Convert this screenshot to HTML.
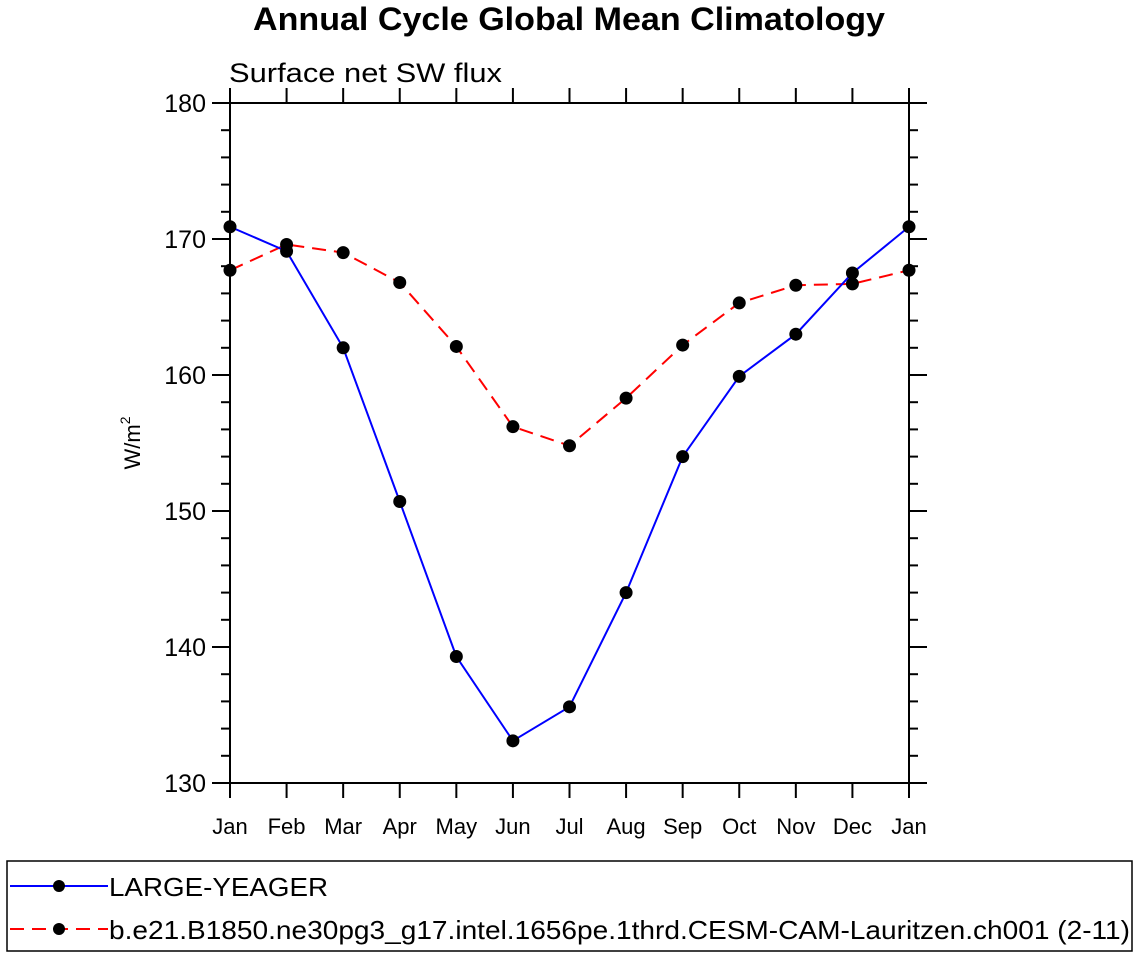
<!DOCTYPE html>
<html><head><meta charset="utf-8"><style>
body{margin:0;background:#fff;}
svg{display:block;font-family:"Liberation Sans",sans-serif;}
</style></head><body>
<svg id="chart" width="1138" height="958">
<text x="253" y="30" textLength="632" lengthAdjust="spacingAndGlyphs" font-size="32" font-weight="bold">Annual Cycle Global Mean Climatology</text>
<text x="229" y="82" textLength="273" lengthAdjust="spacingAndGlyphs" font-size="27">Surface net SW flux</text>
<text transform="translate(140,443) rotate(-90)" text-anchor="middle" font-size="22">W/m<tspan font-size="14" dy="-10">2</tspan></text>
<g id="axes"></g>
<g id="series"></g>
<rect x="7" y="861" width="1125" height="90" fill="none" stroke="#000" stroke-width="1.5"/>
<g>
<line x1="10" y1="886" x2="108" y2="886" stroke="#00f" stroke-width="2"/>
<circle cx="59" cy="886" r="6" fill="#000"/>
<text x="109" y="896" textLength="219" lengthAdjust="spacingAndGlyphs" font-size="26">LARGE-YEAGER</text></g>
<g>
<line x1="10" y1="929" x2="108" y2="929" stroke="#f00" stroke-width="2" stroke-dasharray="14,8"/>
<circle cx="59" cy="929" r="6" fill="#000"/>
<text x="109" y="939" textLength="1021" lengthAdjust="spacingAndGlyphs" font-size="26">b.e21.B1850.ne30pg3_g17.intel.1656pe.1thrd.CESM-CAM-Lauritzen.ch001 (2-11)</text></g>
</svg>
<script>
const months = ["Jan","Feb","Mar","Apr","May","Jun","Jul","Aug","Sep","Oct","Nov","Dec","Jan"];
const blueValues = [170.9,169.1,162.0,150.7,139.3,133.1,135.6,144.0,154.0,159.9,163.0,167.5,170.9];
const redValues = [167.7,169.6,169.0,166.8,162.1,156.2,154.8,158.3,162.2,165.3,166.6,166.7,167.7];
const yTicks = [130,140,150,160,170,180];
const yMin = 130, yMax = 180;
const L=230,R=909,T=103,B=783;
const NS="http://www.w3.org/2000/svg";
const xs=i=>L+(R-L)*i/(months.length-1);
const ys=v=>B-(B-T)*(v-yMin)/(yMax-yMin);
function mk(tag,attrs,parent){const e=document.createElementNS(NS,tag);for(const k in attrs)e.setAttribute(k,attrs[k]);parent.appendChild(e);return e;}
const ax=document.getElementById('axes');
const frame=mk('rect',{x:L,y:T,width:R-L,height:B-T,fill:'none',stroke:'#000','stroke-width':2},ax);


for(let v=yMin;v<=yMax;v+=2){
  const major=(v%10===0);const len=major?18:9;const y=ys(v);
  mk('line',{x1:L-len,y1:y,x2:L,y2:y,stroke:'#000','stroke-width':2},ax);
  mk('line',{x1:R,y1:y,x2:R+len,y2:y,stroke:'#000','stroke-width':2},ax);
}
yTicks.forEach(v=>{
  const t=mk('text',{x:L-24,y:ys(v)+9,'text-anchor':'end','font-size':25},ax);
  t.textContent=v;
  
  
});
months.forEach((m,i)=>{
  const x=xs(i);
  mk('line',{x1:x,y1:B,x2:x,y2:B+15,stroke:'#000','stroke-width':2},ax);
  mk('line',{x1:x,y1:T-15,x2:x,y2:T,stroke:'#000','stroke-width':2},ax);
  const t=mk('text',{x:x,y:834,'text-anchor':'middle','font-size':22},ax);
  t.textContent=m;
  
  
});
const sg=document.getElementById('series');
function draw(vals,color,dash,name){
  const g=mk('g',{},sg);
  
  
  const pts=vals.map((v,i)=>xs(i)+','+ys(v)).join(' ');
  const a={points:pts,fill:'none',stroke:color,'stroke-width':2};
  if(dash)a['stroke-dasharray']=dash;
  mk('polyline',a,g);
  vals.forEach((v,i)=>{
    const c=mk('circle',{cx:xs(i),cy:ys(v),r:6.5,fill:'#000'},g);
    
    
  });
}
draw(redValues,'#f00','14,8','series-cesm');
draw(blueValues,'#00f',null,'series-large-yeager');
</script>
</body></html>
